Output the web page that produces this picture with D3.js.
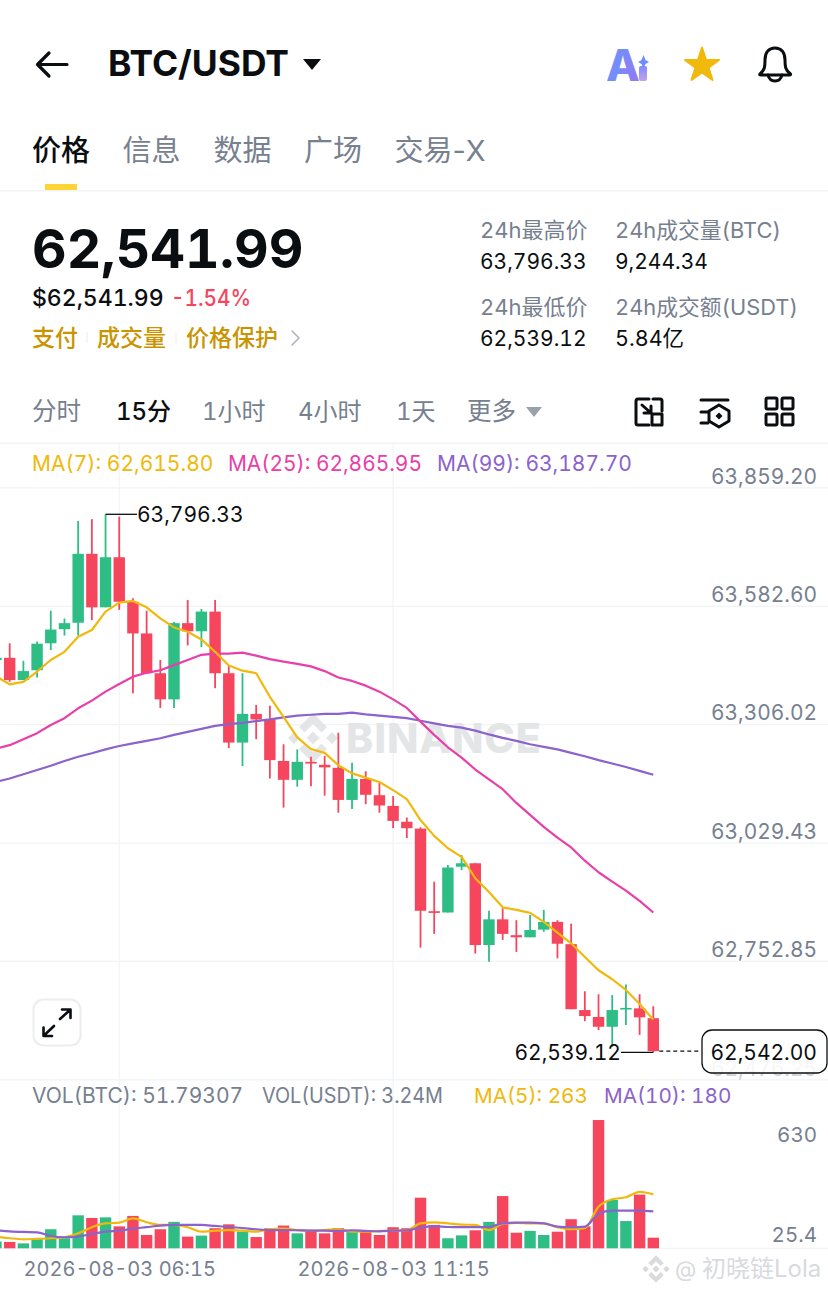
<!DOCTYPE html>
<html lang="zh">
  <head>
    <meta charset="UTF-8" />
    <title>BTC/USDT</title>
    <script src="https://d3js.org/d3.v7.min.js"></script>
    <style>
      html, body { margin: 0; padding: 0; background: #fff; }
      svg { display: block; }
      text { font-family: Inter, "Noto Sans CJK SC", sans-serif; font-variant-numeric: tabular-nums; }
      .grey { fill: #76808f; }
      .dark { fill: #0b0e11; }
      .gold { fill: #c99400; }
    </style>
  </head>
  <body>
    <div id="chart"></div>
    <script>
      // candle values, first one is cut off by the left edge
      const opens = [63456,63461,63409,63432,63495,63528,63543,63704,63579,63696,63592,63518,63425,63364,63542,63523,63569,63425,63263,63330,63317,63220,63176,63218,63211,63204,63129,63178,63140,63115,63078,63062,62869,62866,62973,62981,62790,62850,62813,62808,62826,62844,62792,62638,62622,62599,62640,62642,62619];
      const highs = [63461,63495,63454,63499,63571,63553,63781,63785,63796.33,63791,63600,63571,63456,63545,63596,63575,63596,63443,63425,63351,63349,63259,63247,63230,63232,63286,63216,63196,63169,63138,63088,63065,62938,62977,63000,62981,62870,62876,62848,62860,62872,62848,62840,62682,62675,62673,62698,62675,62647];
      const lows = [63456,63405,63409,63415,63479,63513,63513,63549,63579,63573,63378,63425,63344,63344,63490,63486,63390,63250,63208,63271,63179,63111,63160,63161,63139,63099,63108,63119,63099,63063,63040,62784,62816,62866,62965,62770,62751,62802,62774,62808,62821,62759,62640,62612,62591,62552,62603,62580,62539.12];
      const closes = [63461,63409,63430,63494,63527,63542,63704,63579,63696,63592,63518,63425,63364,63542,63523,63569,63425,63263,63330,63317,63222,63176,63218,63214,63205,63129,63178,63141,63116,63080,63063,62870,62865,62971,62981,62790,62850,62816,62808,62825,62844,62793,62640,62624,62599,62638,62643,62621,62542];
      const volumes = [33,31,24,49,93,49,161,148,151,107,158,65,93,129,57,62,98,117,81,55,98,111,73,86,73,98,81,81,65,103,98,247,114,49,63,88,129,255,76,85,65,81,142,107,626,236,133,262,51.79];

      const ma7 = [63418,63399,63405,63429,63456,63475,63510,63526,63569,63590,63594,63579,63553,63532,63522,63504,63475,63443,63431,63425,63370,63323,63275,63248,63239,63210,63191,63181,63171,63152,63131,63082,63045,63016,62996,62946,62914,62878,62872,62865,62844,62819,62794,62762,62731,62710,62685,62652,62615.8];
      const ma25 = [63249,63257,63271,63285,63304,63320,63343,63361,63382,63400,63417,63426,63432,63444,63456,63468,63471,63471,63473,63466,63458,63452,63447,63441,63430,63415,63407,63396,63382,63364,63344,63312,63281,63252,63228,63200,63177,63154,63122,63094,63066,63041,63018,62987,62960,62938,62917,62893,62865.95];
      const ma99 = [63171,63179,63189,63199,63209,63220,63230,63238,63247,63255,63261,63267,63273,63281,63288,63295,63302,63306,63309,63313,63317,63322,63326,63328,63330,63330,63333,63329,63326,63323,63320,63314,63308,63302,63298,63291,63282,63274,63267,63259,63253,63247,63239,63231,63222,63214,63206,63197,63187.7];
      const volMa5 = [57,49,44,46,49,54,73,103,122,125,146,127,114,114,103,81,86,89,86,81,94,96,89,86,89,93,81,81,85,86,88,122,127,122,116,114,89,119,124,122,122,103,93,98,203,239,249,275,263];
      const volMa10 = [88,83,80,78,60,54,57,70,81,86,96,103,111,114,114,114,109,104,99,93,89,89,88,86,86,85,88,85,83,86,88,101,107,104,103,103,104,122,125,125,122,106,103,106,168,184,184,184,180];

      // tick labels
      const priceTicks = [63859.2, 63582.6, 63306.02, 63029.43, 62752.85, 62476.25];
      const volTicks = [630, 25.4];
      const timeTicks = [9, 29]; // positions in the candle list
      const timeLabels = ["2026-08-03 06:15", "2026-08-03 11:15"];

      const width = 828;
      const height = 1294;
      const up = "#2ebd85";
      const down = "#f6465d";
      const yellow = "#f0b90b";
      const pink = "#e83fa8";
      const purple = "#8c62cc";
      const gridColor = "#f2f3f5";

      const svg = d3
        .select("#chart")
        .append("svg")
        .attr("width", width)
        .attr("height", height)
        .attr("viewBox", [0, 0, width, height]);

      const defs = svg.append("defs");
      const aiGrad = defs.append("linearGradient").attr("id", "ai").attr("x1", 0).attr("x2", 1).attr("y1", 0).attr("y2", 0.4);
      aiGrad.append("stop").attr("offset", "0%").attr("stop-color", "#5f9bff");
      aiGrad.append("stop").attr("offset", "100%").attr("stop-color", "#8f7cf5");
      const iGrad = defs.append("linearGradient").attr("id", "aii").attr("x1", 0).attr("x2", 0).attr("y1", 0).attr("y2", 1);
      iGrad.append("stop").attr("offset", "0%").attr("stop-color", "#7f8cff");
      iGrad.append("stop").attr("offset", "100%").attr("stop-color", "#c4a0e8");

      function label(x, y, str, cls, size, weight, anchor) {
        return svg
          .append("text")
          .attr("x", x)
          .attr("y", y)
          .attr("class", cls)
          .attr("font-size", size)
          .attr("font-weight", weight || 400)
          .attr("text-anchor", anchor || "start")
          .text(str);
      }

      // header
      const line = (d, sw, c) =>
        svg.append("path").attr("d", d).attr("fill", "none").attr("stroke", c || "#0b0e11").attr("stroke-width", sw).attr("stroke-linecap", "round").attr("stroke-linejoin", "round");
      const fillPath = (d, c) => svg.append("path").attr("d", d).attr("fill", c);

      line("M67 64.5H38M49 53L37.5 64.5L49 76", 3.2);
      label(108, 76, "BTC/USDT", "dark", 35.4, 700);
      fillPath("M303 59H321L312 70Z", "#0b0e11");

      // Ai icon
      label(606, 81, "A", "", 44, 800).attr("fill", "url(#ai)");
      svg.append("rect").attr("x", 639).attr("y", 66).attr("width", 8).attr("height", 15).attr("rx", 2).attr("fill", "url(#aii)");
      fillPath("M643.5 55L645.5 60L649 62L645.5 64L643.5 68L641.5 64L638 62L641.5 60Z", "#6f8cff");

      svg
        .append("path")
        .attr("d", d3.symbol(d3.symbolStar, 360)())
        .attr("transform", "translate(702,65.5)")
        .attr("fill", yellow)
        .attr("stroke", yellow)
        .attr("stroke-width", 2)
        .attr("stroke-linejoin", "round");

      line("M760 74C765 70 765 66 765 60C765 52 769 48 775 48C781 48 785 52 785 60C785 66 785 70 790.5 74Q791 75 789 75H761Q759 75 760 74Z", 3);
      line("M768 75C769 79 771.5 81 775 81C778.5 81 781 79 782 75", 3);

      // tabs
      label(32, 161, "价格", "dark", 29, 500);
      [["信息", 122.5], ["数据", 213.5], ["广场", 304], ["交易-X", 394.5]].forEach((d) =>
        label(d[1], 161, d[0], "grey", 29, 400).style("font-variant-numeric", "normal")
      );
      svg.append("rect").attr("x", 45).attr("y", 184).attr("width", 32).attr("height", 6).attr("fill", "#fcd535");
      svg.append("rect").attr("x", 0).attr("y", 190).attr("width", width).attr("height", 1.5).attr("fill", gridColor);

      // price block
      label(32, 268, "62,541.99", "dark", 53.6, 700);
      label(32, 306, "$62,541.99", "dark", 23, 500);
      label(171, 306, "-1.54%", "", 23, 500).attr("fill", down).attr("textLength", 80).attr("lengthAdjust", "spacingAndGlyphs");
      label(32, 346, "支付", "gold", 23, 500);
      label(97, 346, "成交量", "gold", 23, 500);
      label(186, 346, "价格保护", "gold", 23, 500);
      svg.append("rect").attr("x", 86.5).attr("y", 332).attr("width", 1).attr("height", 11).attr("fill", "#eaecef");
      svg.append("rect").attr("x", 175.5).attr("y", 332).attr("width", 1).attr("height", 11).attr("fill", "#eaecef");
      line("M292 331L299 338L292 345", 1.6, "#aeb4bc");

      label(480, 238, "24h最高价", "grey", 22);
      label(480, 269, "63,796.33", "dark", 21);
      label(615, 238, "24h成交量(BTC)", "grey", 21.8);
      label(615, 269, "9,244.34", "dark", 21);
      label(480, 315, "24h最低价", "grey", 22);
      label(480, 346, "62,539.12", "dark", 21);
      label(615, 315, "24h成交额(USDT)", "grey", 21.8);
      label(615, 346, "5.84亿", "dark", 21.5);

      // interval row
      label(32, 420, "分时", "grey", 24.5);
      label(116, 420, "15分", "dark", 24, 500);
      label(202, 420, "1小时", "grey", 24);
      label(298, 420, "4小时", "grey", 24);
      label(396, 420, "1天", "grey", 24);
      label(467, 420, "更多", "grey", 24.5);
      fillPath("M526 407H542L534 417Z", "#9aa1ab");

      // tool icons
      line("M649 399H638Q636 399 636 401V423Q636 425 638 425H649M653 399H660Q662 399 662 401V411", 3);
      line("M642 405L651 413M651 406V413H644", 3);
      line("M652 414H662V425H652Z", 3);
      line("M701 400H728", 3);
      line("M701 412H708M701 423H708", 3);
      line("M719 405L729 411V421L719 427L709 421V411Z", 3);
      fillPath("M719 412.5L722.5 416L719 419.5L715.5 416Z", "#0b0e11");
      [[766, 398], [782, 398], [766, 414], [782, 414]].forEach((d) =>
        svg.append("rect").attr("x", d[0]).attr("y", d[1]).attr("width", 11).attr("height", 11).attr("rx", 1.5).attr("fill", "none").attr("stroke", "#0b0e11").attr("stroke-width", 3)
      );

      svg.append("rect").attr("x", 0).attr("y", 442.5).attr("width", width).attr("height", 1.5).attr("fill", gridColor);

      // scales
      const x = d3.scaleLinear().domain([0, 48]).range([-4, 653.3]);
      const y = d3.scaleLinear().domain([62476.25, 63859.2]).range([1079.3, 487.4]);
      const volY = d3.scaleLinear().domain([0, 630]).range([1248.3, 1119.2]);
      const bodyW = 11.4;

      // grids
      svg
        .append("g")
        .call(d3.axisRight(y).tickValues(priceTicks).tickSize(width).tickFormat(""))
        .call((g) => g.select(".domain").remove())
        .call((g) => g.selectAll("line").attr("stroke", gridColor).attr("stroke-width", 1.2));

      svg
        .append("g")
        .selectAll("line")
        .data(timeTicks)
        .join("line")
        .attr("x1", (d) => x(d))
        .attr("x2", (d) => x(d))
        .attr("y1", 443)
        .attr("y2", 1248)
        .attr("stroke", gridColor)
        .attr("stroke-width", 1.2);

      svg.append("line").attr("x1", 0).attr("x2", width).attr("y1", 1248.3).attr("y2", 1248.3).attr("stroke", gridColor).attr("stroke-width", 1.2);

      // watermark under the candles
      const logo = (cx, cy, s, c, parent) => {
        const g = (parent || svg).append("g").attr("transform", `translate(${cx},${cy}) scale(${s})`).attr("fill", c);
        g.append("path").attr("d", "M0 -6.5L6.5 0L0 6.5L-6.5 0Z");
        g.append("path").attr("d", "M0 -25L14 -11L8.5 -5.5L0 -14L-8.5 -5.5L-14 -11Z");
        g.append("path").attr("d", "M0 25L14 11L8.5 5.5L0 14L-8.5 5.5L-14 11Z");
        g.append("path").attr("d", "M-25 0L-19 -6L-13 0L-19 6Z");
        g.append("path").attr("d", "M25 0L19 -6L13 0L19 6Z");
      };
      logo(313, 738, 1, "#e4e5e7");
      label(346, 753, "BINANCE", "", 41, 800).attr("fill", "#e4e5e7").attr("letter-spacing", 1);

      // candles
      const candle = svg.append("g").selectAll("g").data(closes).join("g");
      const colorOf = (i) => (closes[i] >= opens[i] ? up : down);
      candle
        .append("line")
        .attr("x1", (d, i) => x(i))
        .attr("x2", (d, i) => x(i))
        .attr("y1", (d, i) => y(highs[i]))
        .attr("y2", (d, i) => y(lows[i]))
        .attr("stroke", (d, i) => colorOf(i))
        .attr("stroke-width", 1.8);
      candle
        .append("rect")
        .attr("x", (d, i) => x(i) - bodyW / 2)
        .attr("y", (d, i) => y(Math.max(opens[i], closes[i])))
        .attr("width", bodyW)
        .attr("height", (d, i) => Math.max(1.6, Math.abs(y(opens[i]) - y(closes[i]))))
        .attr("fill", (d, i) => colorOf(i));

      // moving averages
      const maLine = d3.line().x((d, i) => x(i)).y((d) => y(d));
      const drawLine = (data, gen, c) =>
        svg.append("path").datum(data).attr("d", gen).attr("fill", "none").attr("stroke", c).attr("stroke-width", 2.2).attr("stroke-linejoin", "round");
      drawLine(ma99, maLine, purple);
      drawLine(ma25, maLine, pink);
      drawLine(ma7, maLine, yellow);

      // ma legend
      label(32, 471, "MA(7): 62,615.80", "", 21).attr("fill", yellow);
      label(228, 471, "MA(25): 62,865.95", "", 20.9).attr("fill", pink);
      label(437, 471, "MA(99): 63,187.70", "", 21).attr("fill", purple);

      // price axis labels, the lowest one is half hidden behind the last price tag
      svg
        .append("g")
        .attr("transform", "translate(817,0)")
        .call(d3.axisLeft(y).tickValues(priceTicks).tickSize(0).tickPadding(0).tickFormat(d3.format(",.2f")))
        .call((g) => g.select(".domain").remove())
        .call((g) =>
          g.selectAll("text")
            .attr("font-size", 20.9)
            .attr("dy", "-0.2em")
            .attr("fill", (d) => (d === 62476.25 ? "#cfd3d8" : "#76808f"))
            .style("font-family", 'Inter, "Noto Sans CJK SC", sans-serif')
        );

      // high and low marks
      const hi = highs.indexOf(d3.max(highs));
      const lo = lows.indexOf(d3.min(lows));
      svg.append("line").attr("x1", x(hi)).attr("x2", 137).attr("y1", y(highs[hi])).attr("y2", y(highs[hi])).attr("stroke", "#0b0e11").attr("stroke-width", 1.3);
      label(137, y(highs[hi]) + 8, "63,796.33", "dark", 21);
      svg.append("line").attr("x1", 621).attr("x2", x(lo)).attr("y1", y(lows[lo])).attr("y2", y(lows[lo])).attr("stroke", "#0b0e11").attr("stroke-width", 1.3);
      label(621, y(lows[lo]) + 8, "62,539.12", "dark", 21, 400, "end");

      // last price tag
      const lastY = y(closes[closes.length - 1]);
      svg.append("line").attr("x1", x(48) + 6).attr("x2", 701).attr("y1", lastY).attr("y2", lastY).attr("stroke", "#0b0e11").attr("stroke-width", 1.2).attr("stroke-dasharray", "4 3");
      svg.append("rect").attr("x", 702).attr("y", 1030).attr("width", 125).attr("height", 43).attr("rx", 10).attr("fill", "#fff").attr("fill-opacity", 0.8).attr("stroke", "#0b0e11").attr("stroke-width", 1.3);
      label(817, 1060, "62,542.00", "dark", 21, 400, "end");

      // expand button
      svg.append("rect").attr("x", 33.5).attr("y", 999.5).attr("width", 47).attr("height", 46).attr("rx", 10).attr("fill", "#fff").attr("stroke", "#eceded").attr("stroke-width", 2);
      line("M60 1019L70 1010M62 1009.5H70.5V1018", 2.6);
      line("M54 1026L44 1035.5M52 1036H43.5V1027.5", 2.6);

      // volume legend
      label(32, 1103, "VOL(BTC): 51.79307", "grey", 21);
      label(262, 1103, "VOL(USDT): 3.24M", "grey", 21).attr("textLength", 181).attr("lengthAdjust", "spacingAndGlyphs");
      label(474, 1103, "MA(5): 263", "", 20.7).attr("fill", yellow);
      label(604, 1103, "MA(10): 180", "", 20.7).attr("fill", purple);

      // volume bars
      svg
        .append("g")
        .selectAll("rect")
        .data(volumes)
        .join("rect")
        .attr("x", (d, i) => x(i) - bodyW / 2)
        .attr("y", (d) => volY(d))
        .attr("width", bodyW)
        .attr("height", (d) => volY(0) - volY(d))
        .attr("fill", (d, i) => colorOf(i));

      const volLine = d3.line().x((d, i) => x(i)).y((d) => volY(d)).curve(d3.curveMonotoneX);
      drawLine(volMa5, volLine, yellow);
      drawLine(volMa10, volLine, purple);

      // volume axis labels
      svg
        .append("g")
        .attr("transform", "translate(817,0)")
        .call(d3.axisLeft(volY).tickValues(volTicks).tickSize(0).tickPadding(0).tickFormat(String))
        .call((g) => g.select(".domain").remove())
        .call((g) => g.selectAll("text").attr("font-size", 20.5).attr("dy", (d) => (d > 100 ? "1.1em" : "-0.1em")).attr("fill", "#76808f").style("font-family", 'Inter, "Noto Sans CJK SC", sans-serif'));

      // time axis
      svg
        .append("g")
        .attr("transform", "translate(0,1248)")
        .call(d3.axisBottom(x).tickValues(timeTicks).tickSize(0).tickPadding(14).tickFormat((d, i) => timeLabels[i]))
        .call((g) => g.select(".domain").remove())
        .call((g) => g.selectAll("text").attr("font-size", 20).attr("fill", "#76808f").style("font-family", 'Inter, "Noto Sans CJK SC", sans-serif'));

      // corner watermark
      logo(656, 1269, 0.55, "#d8dadd");
      label(675, 1277, "@", "", 22).attr("fill", "#d8dadd");
      label(702, 1277, "初晓链Lola", "", 24).attr("fill", "#d8dadd");
    </script>
  </body>
</html>
